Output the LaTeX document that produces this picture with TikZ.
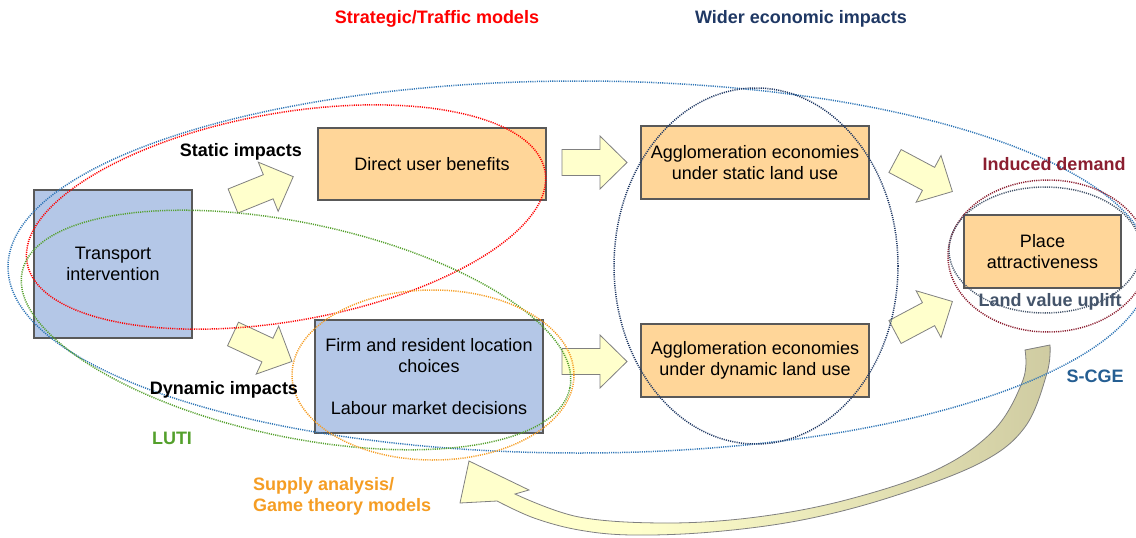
\documentclass[tikz,border=0pt]{standalone}
\usepackage{fontspec}
\setmainfont{Liberation Sans}
\usetikzlibrary{positioning}

\definecolor{boxblue}{RGB}{180,199,231}
\definecolor{boxorange}{RGB}{255,214,153}
\definecolor{boxline}{RGB}{89,89,89}
\definecolor{arrowyellow}{RGB}{255,255,204}
\definecolor{arrowolive}{RGB}{203,199,158}
\definecolor{scgeblue}{RGB}{46,117,182}
\definecolor{lutigreen}{RGB}{84,160,44}
\definecolor{supplyorange}{RGB}{245,157,35}
\definecolor{wideblue}{RGB}{31,56,100}
\definecolor{inducedred}{RGB}{139,30,48}
\definecolor{upliftgray}{RGB}{68,84,106}

\pgfdeclarehorizontalshading{feedback}{100bp}{color(0bp)=(arrowyellow); color(40bp)=(arrowyellow); color(78bp)=(arrowolive); color(100bp)=(arrowolive)}

\tikzset{
	box/.style = {draw = boxline, line width = 1.5pt, minimum width = 228, minimum height = 73, align = center, font = \fontsize{18}{21}\selectfont, inner sep = 0pt},
	bluebox/.style = {box, fill = boxblue},
	orangebox/.style = {box, fill = boxorange},
	lab/.style = {font = \fontsize{18}{21}\selectfont\bfseries, inner sep = 0pt},
	region/.style = {line width = 1.5pt, dash pattern = on 1.1pt off 1.1pt},
	fatarrow/.style = {draw = gray, fill = arrowyellow, line width = 0.8pt, line join = miter},
}

\newcommand{\fatarrow}[2]{%
	\draw[fatarrow, shift = {#1}, rotate = #2] (0,-13) -- (38,-13) -- (38,-26.5) -- (65,0) -- (38,26.5) -- (38,13) -- (0,13) -- cycle;}

\begin{document}
\begin{tikzpicture}[x = 1pt, y = -1pt]
	
	\useasboundingbox (0,0) rectangle (1136,538);
	
	\node[bluebox, minimum width = 158, minimum height = 148] (trans) at (113,264) {Transport\\intervention};
	\node[orangebox, minimum height = 72] (direct) at (432,164) {Direct user benefits};
	\node[bluebox, minimum height = 113] (firm) at (429,376.5) {Firm and resident location\\choices\\[21pt]Labour market decisions};
	\node[orangebox] (aggstat) at (755,162.5) {Agglomeration economies\\under static land use};
	\node[orangebox] (aggdyn) at (755,360.5) {Agglomeration economies\\under dynamic land use};
	\node[orangebox, minimum width = 157] (place) at (1042.5,251.5) {Place\\attractiveness};
	
	\coordinate (s1) at (233,201);
	\coordinate (s2) at (233,334);
	\coordinate (s3) at (562,162.5);
	\coordinate (s4) at (562,361.5);
	\coordinate (s5) at (895,161);
	\coordinate (s6) at (895,332);
	\fatarrow{(s1)}{22}
	\fatarrow{(s2)}{-25}
	\fatarrow{(s3)}{0}
	\fatarrow{(s4)}{0}
	\fatarrow{(s5)}{-28}
	\fatarrow{(s6)}{28}
	
	% feedback arrow
	\shade[shading = feedback, draw = gray, line width = 0.8pt]
		plot[smooth, tension = 0.6] coordinates {(1050,345) (1047,373) (1025,427) (980,463) (891,497) (802,520) (712,532) (632,535) (579,530) (534,518) (497,501)}
		-- (460,503) -- (469,461) -- (529,490) --
		plot[smooth, tension = 0.6] coordinates {(515,494) (579,517) (668,523) (757,517) (846,500) (936,470) (994,430) (1023,380) (1025,350)} -- cycle;
	
	\coordinate (r) at (286,217);
	\coordinate (g) at (296,330);
	\coordinate (o) at (433,375);
	\coordinate (b) at (579,267);
	\coordinate (w) at (756,266);
	\coordinate (m) at (1048,256);
	\coordinate (u) at (1045,250);
	\draw[region, scgeblue] (b) ellipse [x radius = 571, y radius = 186];
	\draw[region, red, rotate around = {10:(r)}] (r) ellipse [x radius = 263, y radius = 104];
	\draw[region, lutigreen, rotate around = {-12:(g)}] (g) ellipse [x radius = 280, y radius = 107];
	\draw[region, supplyorange] (o) ellipse [x radius = 141, y radius = 85];
	\draw[region, wideblue] (w) ellipse [x radius = 142, y radius = 178];
	\draw[region, inducedred] (m) ellipse [x radius = 100, y radius = 76];
	\draw[region, upliftgray] (u) ellipse [x radius = 96, y radius = 63];
	
	\node[lab, red] (strat) at (437,19) {Strategic/Traffic models};
	\node[lab, wideblue] (wider) at (801,19) {Wider economic impacts};
	\node[lab] (static) at (241,152) {Static impacts};
	\node[lab] (dynamic) at (224,390) {Dynamic impacts};
	\node[lab, lutigreen] (luti) at (172,438) {LUTI};
	\node[lab, supplyorange, anchor = west, align = left] (supply) at (253,496) {Supply analysis/\\Game theory models};
	\node[lab, inducedred] (induced) at (1054,164) {Induced demand};
	\node[lab, upliftgray] (uplift) at (1050,302) {Land value uplift};
	\node[lab, scgeblue!80!black] (scge) at (1095,376) {S-CGE};
\end{tikzpicture}
\end{document}
